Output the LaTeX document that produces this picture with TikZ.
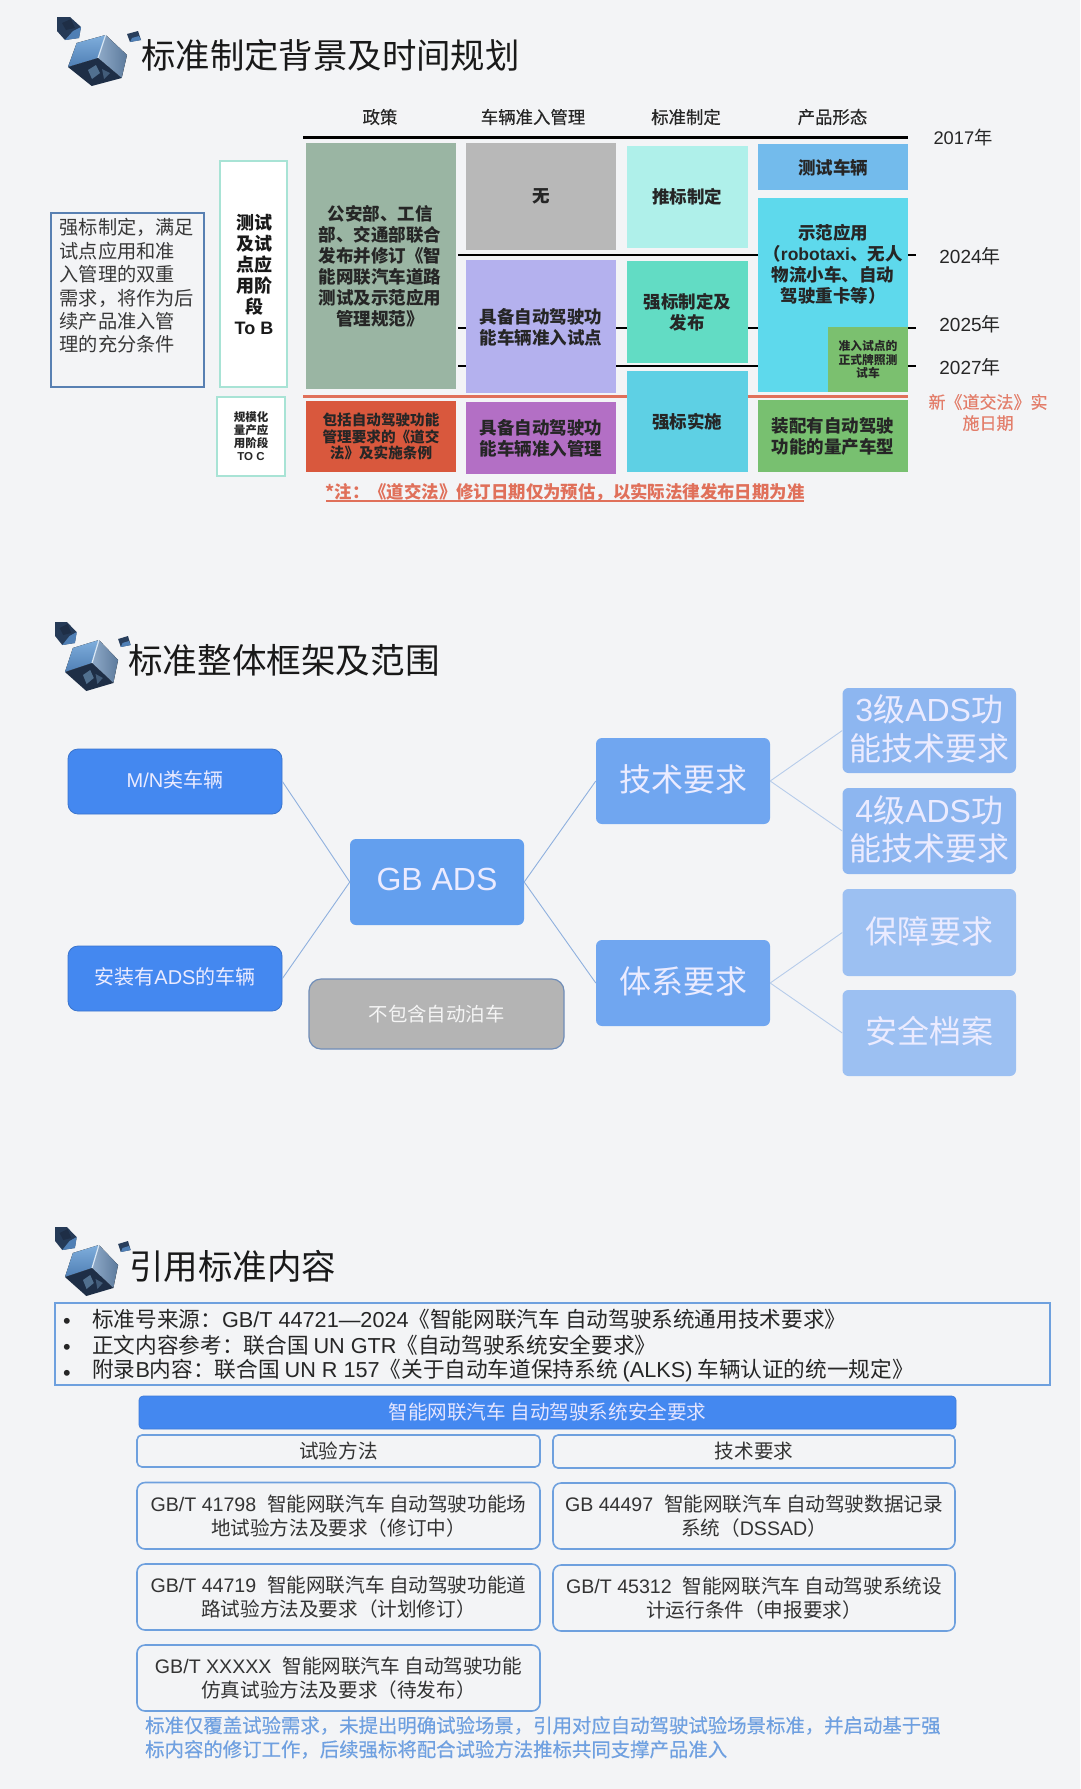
\documentclass[tikz,border=0pt]{standalone}
\usepackage{fontspec}
\setmainfont{Noto Sans CJK SC}
\newfontfamily\lat{Liberation Sans}
\newfontfamily\med[FakeBold=0.35]{Noto Sans CJK SC}
\newcommand\fs[2]{\fontsize{#1}{#2}\selectfont}
\newcommand\bx[7]{\node[#6,minimum width={(#4-#2)*1pt},minimum height={(#5-#3)*1pt}] (#1) at ({(#2+#4)/2},{(#3+#5)/2}) {#7};}
\definecolor{bgc}{HTML}{F3F4F6}
\definecolor{cubeA}{HTML}{7FAEDC}
\definecolor{cubeB}{HTML}{4F7FB5}
\definecolor{cubeC}{HTML}{8FAAC8}
\definecolor{cubeD}{HTML}{5C7A9C}
\definecolor{cubeE}{HTML}{1E2E46}
\definecolor{cubeF}{HTML}{51708F}
\definecolor{tealb}{HTML}{A8E3D5}
\definecolor{linkb}{HTML}{8FB0DE}
\definecolor{redl}{HTML}{E0705A}
\definecolor{frameb}{HTML}{6EA0DE}
\definecolor{cA}{HTML}{9AB5A3}
\definecolor{cB}{HTML}{D9583D}
\definecolor{cC}{HTML}{B8B8B8}
\definecolor{cD}{HTML}{B4B1EE}
\definecolor{cE}{HTML}{B36FC5}
\definecolor{cF}{HTML}{AFF0EA}
\definecolor{cG}{HTML}{62DCC4}
\definecolor{cH}{HTML}{5ED0E4}
\definecolor{cI}{HTML}{73BBEC}
\definecolor{cJ}{HTML}{5ED9EC}
\definecolor{cK}{HTML}{7BC06F}
\definecolor{cL}{HTML}{78C070}
\definecolor{bA}{HTML}{4488F0}
\definecolor{bB}{HTML}{639FEE}
\definecolor{bC}{HTML}{70A6F0}
\definecolor{bD}{HTML}{8DB6F0}
\definecolor{bE}{HTML}{9CC0F2}
\definecolor{gA}{HTML}{B4B4B4}
\definecolor{gB}{HTML}{6F8DB8}
\definecolor{ftc}{HTML}{6FA0E0}
\newcommand\cubeicon[4]{%
\begin{scope}[shift={(#1,#2)},xscale=#3,yscale=#4]
 \fill[cubeE!85!cubeB] (-11,-18) -- (2,-18) -- (13,-8) -- (11,3) -- (-3,5) -- (-11,-4) -- cycle;
 \fill[cubeB] (-3,5) -- (11,3) -- (13,-8) -- (5,-4) -- cycle;
 \fill[cubeE] (-6,-12) -- (3,-16) -- (7,-7) -- (-2,-5) -- cycle;
 \fill[top color=cubeA,bottom color=cubeB] (37.7,0) -- (8.7,8) -- (0,32) -- (30,23) -- cycle;
 \fill[left color=cubeC,right color=cubeD] (37.7,0) -- (59,20) -- (53.7,43) -- (30,23) -- cycle;
 \fill[cubeE] (0,32) -- (30,23) -- (53.7,43) -- (23.7,51) -- cycle;
 \fill[cubeF] (20,35) -- (28,30) -- (32,38) -- (24,44) -- cycle;
 \fill[cubeF!70!cubeE] (34,34) -- (42,38) -- (36,44) -- cycle;
 \draw[white!70!cubeA,line width=1.2pt] (37.7,0) -- (30,23);
 \fill[cubeE!80!cubeB] (59,-1) -- (70,-4) -- (73,5) -- (62,7) -- cycle;
 \fill[cubeB] (62,7) -- (73,5) -- (71,1) -- (64,3) -- cycle;
\end{scope}}
\tikzset{
 lab/.style={inner sep=0pt,align=center},
 tb/.style={lab,font=\fs{17.5}{21}\bfseries,text=black!85},
 hd/.style={lab,font=\fs{17.4}{21}\med,text=black!85},
 yr/.style={lab,font=\fs{19}{23},text=black!85},
 ttl/.style={inner sep=0pt,anchor=west,text=black!90},
 pane/.style={inner sep=0pt,align=center},
 fb/.style={pane,fill=#1,font=\fs{17.5}{21}\bfseries,text=black!85},
 wbox/.style={pane,fill=white,draw=tealb,line width=2.5pt},
 tline/.style={black,line width=2.8pt},
 rline/.style={redl,line width=3pt},
 mn/.style={pane,rounded corners=10pt,fill=bA,draw=bA!85!black,line width=.8pt,text=white!92!blue,font=\fs{20}{24},text depth=4.5pt},
 mid/.style={pane,rounded corners=6pt,fill=#1,text=white!92!blue,font=\fs{32}{38.5},text depth=5.5pt},
 link/.style={draw=linkb,line width=.9pt},
 link2/.style={draw=linkb!65!white,line width=.9pt},
 fr/.style={pane,rounded corners=8pt,draw=frameb,line width=1.6pt,font=\fs{19.6}{24},text=black!80},
 bl/.style={inner sep=0pt,anchor=west,font=\fs{21.65}{25},text=black!85},
}
\begin{document}
\begin{tikzpicture}[x=1pt,y=-1pt]
\fill[bgc] (0,0) rectangle (1080,1789);
\useasboundingbox (0,0) rectangle (1080,1789);
% ---------- section 1
\cubeicon{68}{35}{1}{1}
\node[ttl,font=\fs{34.4}{40}] (t1) at (141,55) {标准制定背景及时间规划};
\node[hd] (h1) at (380,117) {政策};
\node[hd] (h2) at (533,117) {车辆准入管理};
\node[hd] (h3) at (686,117) {标准制定};
\node[hd] (h4) at (832.5,117) {产品形态};
\draw[tline] (303,137.5) -- (907.5,137.5);
\bx{lft}{51}{213}{204}{387}{pane,draw=frameb!80!black,line width=1.6pt}{}
\node[inner sep=0pt,anchor=north west,align=left,font=\fs{19.2}{23.4},text=black!78] (lftt) at (59.5,218.5) {强标制定，满足\\试点应用和准\\入管理的双重\\需求，将作为后\\续产品准入管\\理的充分条件};
\bx{tob}{220}{161}{287}{387}{wbox}{}
\node[lab,font=\fs{18}{21}\bfseries,text=black!90] (tobt) at (254,274) {测试\\及试\\点应\\用阶\\段\\{\lat To B}};
\bx{toc}{217}{397}{285}{476}{wbox,font=\fs{11.5}{13}\bfseries,text=black!85}{规模化\\量产应\\用阶段\\{\lat TO C}}
\bx{p1}{306}{143}{456}{389}{fb=cA}{}
\node[tb] (p1t) at (380,266.5) {公安部、工信\\部、交通部联合\\发布并修订《智\\能网联汽车道路\\测试及示范应用\\管理规范》};
\bx{p2}{306}{401}{456}{472}{fb=cB,font=\fs{14.6}{16.6}\bfseries}{包括自动驾驶功能\\管理要求的《道交\\法》及实施条例}
\bx{v1}{466}{143}{616}{250}{fb=cC}{无}
\bx{v2}{466}{260}{616}{393}{fb=cD}{}
\node[tb] (v2t) at (541,327) {具备自动驾驶功\\能车辆准入试点};
\bx{v3}{466}{402}{616}{474}{fb=cE}{具备自动驾驶功\\能车辆准入管理}
\bx{s1}{627}{146}{747.5}{248}{fb=cF}{推标制定}
\bx{s2}{627}{261}{747.5}{363}{fb=cG,font=\fs{17.5}{20.5}\bfseries}{强标制定及\\发布}
\bx{s3}{627}{371}{747.5}{472}{fb=cH}{强标实施}
\bx{c1}{758}{144}{908}{190}{fb=cI,text depth=1pt}{测试车辆}
\bx{c2}{758}{198}{908}{392}{fb=cJ}{}
\node[tb] (c2t) at (833,264.5) {示范应用\\（{\lat robotaxi}、无人\\物流小车、自动\\驾驶重卡等）};
\bx{c3}{828}{327}{908}{392}{fb=cK,font=\fs{11.8}{13.8}\bfseries}{准入试点的\\正式牌照测\\试车}
\bx{c4}{758}{400}{908}{472}{fb=cL}{装配有自动驾驶\\功能的量产车型}
\draw[tline] (458,255) -- (758,255);
\draw[tline] (908,255) -- (916,255);
\draw[tline] (458,328) -- (466,328);
\draw[tline] (616,328) -- (627,328);
\draw[tline] (748,328) -- (758,328);
\draw[tline] (908,328) -- (916,328);
\draw[tline] (458,366) -- (466,366);
\draw[tline] (616,366) -- (758,366);
\draw[tline] (908,366) -- (916,366);
\draw[rline] (303,396.5) -- (627,396.5);
\draw[rline] (748,396.5) -- (908,396.5);
\node[yr,font=\fs{18.3}{22}] (y17) at (963,138) {{\lat 2017}年};
\node[yr] (y24) at (970,256) {{\lat 2024}年};
\node[yr] (y25) at (970,324) {{\lat 2025}年};
\node[yr] (y27) at (970,367) {{\lat 2027}年};
\node[lab,font=\fs{17}{21}\med,text=redl!90!white] (law) at (988,412.5) {新《道交法》实\\施日期};
\node[lab,font=\fs{17.4}{21}\bfseries,text=redl] (note) at (565,492) {*注：《道交法》修订日期仅为预估，以实际法律发布日期为准};
\draw[redl,line width=1.4pt] (326,501) -- (804,501);
% ---------- section 2
\cubeicon{65}{640}{.9}{1}
\node[ttl,font=\fs{34.6}{40}] (t2) at (128,660) {标准整体框架及范围};
\bx{mnv}{68}{749}{282}{814}{mn}{{\lat M/N}类车辆}
\bx{ads}{68}{946}{282}{1011}{mn}{安装有{\lat ADS}的车辆}
\bx{gb}{350}{839}{524}{925}{mid=bB}{{\lat GB ADS}}
\bx{tech}{596}{738}{770}{824}{mid=bC}{技术要求}
\bx{sys}{596}{940}{770}{1026}{mid=bC}{体系要求}
\bx{l3}{842.5}{688}{1016}{773}{mid=bD}{{\lat 3}级{\lat ADS}功\\能技术要求}
\bx{l4}{842.5}{788}{1016}{874}{mid=bD}{{\lat 4}级{\lat ADS}功\\能技术要求}
\bx{safe}{842.5}{889}{1016}{976}{mid=bE}{保障要求}
\bx{file}{842.5}{990}{1016}{1076}{mid=bE}{安全档案}
\bx{nop}{309}{979}{564}{1049}{pane,rounded corners=12pt,fill=gA,draw=gB,line width=1.2pt,text=white!92!gray,font=\fs{19.4}{24}}{不包含自动泊车}
\draw[link] (mnv.east) -- (gb.west);
\draw[link] (ads.east) -- (gb.west);
\draw[link] (gb.east) -- (tech.west);
\draw[link] (gb.east) -- (sys.west);
\draw[link2] (tech.east) -- (l3.west);
\draw[link2] (tech.east) -- (l4.west);
\draw[link2] (sys.east) -- (safe.west);
\draw[link2] (sys.east) -- (file.west);
% ---------- section 3
\cubeicon{65}{1245}{.9}{1}
\node[ttl,font=\fs{34.5}{40}] (t3) at (129,1266) {引用标准内容};
\bx{src}{55}{1303}{1050}{1385}{pane,draw=frameb,line width=1.6pt}{}
\node[bl] (d1) at (63,1323) {\lat •};
\node[bl] (d2) at (63,1349) {\lat •};
\node[bl] (d3) at (63,1375) {\lat •};
\node[bl] (s1t) at (92,1319) {标准号来源：{\lat GB/T 44721—2024}《智能网联汽车 自动驾驶系统通用技术要求》};
\node[bl] (s2t) at (92,1345) {正文内容参考：联合国 {\lat UN GTR}《自动驾驶系统安全要求》};
\node[bl] (s3t) at (92,1371) {附录{\lat B}内容：联合国 {\lat UN R 157}《关于自动车道保持系统 {\lat (ALKS)} 车辆认证的统一规定》};
\bx{bar}{139}{1396}{956}{1429}{pane,rounded corners=4pt,fill=bA,draw=bA!90!black,line width=.6pt,text=white!90!blue,font=\fs{19.6}{24}}{智能网联汽车 自动驾驶系统安全要求}
\bx{ca}{137}{1435}{540}{1467}{fr,rounded corners=5pt}{试验方法}
\bx{cb}{553}{1435}{955}{1468}{fr,rounded corners=5pt}{技术要求}
\bx{ra}{137}{1482.5}{540}{1549}{fr}{{\lat GB/T 41798\ \ }智能网联汽车 自动驾驶功能场\\地试验方法及要求（修订中）}
\bx{rb}{553}{1483}{955}{1549}{fr}{{\lat GB 44497\ \ }智能网联汽车 自动驾驶数据记录\\系统（{\lat DSSAD}）}
\bx{rc}{137}{1564}{540}{1630}{fr}{{\lat GB/T 44719\ \ }智能网联汽车 自动驾驶功能道\\路试验方法及要求（计划修订）}
\bx{rd}{553}{1565}{955}{1631}{fr}{{\lat GB/T 45312\ \ }智能网联汽车 自动驾驶系统设\\计运行条件（申报要求）}
\bx{re}{137}{1645}{540}{1711}{fr}{{\lat GB/T XXXXX\ \ }智能网联汽车 自动驾驶功能\\仿真试验方法及要求（待发布）}
\node[inner sep=0pt,anchor=north west,align=left,font=\fs{19.4}{24}\med,text=ftc] (ft) at (145,1716) {标准仅覆盖试验需求，未提出明确试验场景，引用对应自动驾驶试验场景标准，并启动基于强\\标内容的修订工作，后续强标将配合试验方法推标共同支撑产品准入};
\end{tikzpicture}
\end{document}
